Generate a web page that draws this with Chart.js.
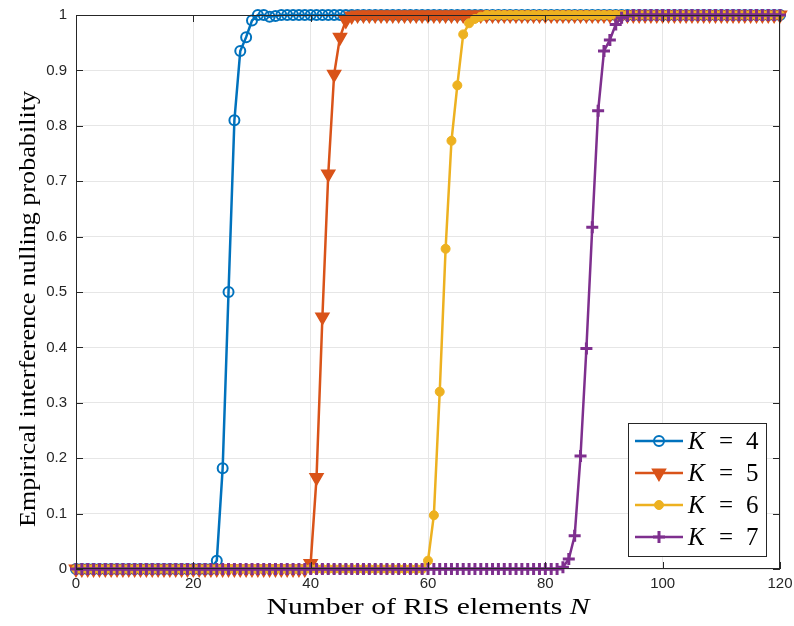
<!DOCTYPE html>
<html>
<head>
<meta charset="utf-8">
<script src="https://cdn.jsdelivr.net/npm/chart.js@4/dist/chart.umd.min.js"></script>
<style>
  html, body { margin: 0; padding: 0; background: #fff; }
  #wrap { width: 794px; height: 626px; position: relative; }
</style>
</head>
<body>
<div id="wrap"><canvas id="nullingChart"></canvas></div>
<script>
// RIS element counts N = 0..120
const nValues = [
  0,1,2,3,4,5,6,7,8,9,10,11,12,13,14,15,16,17,18,19,20,21,22,23,24,25,26,27,28,29,
  30,31,32,33,34,35,36,37,38,39,40,41,42,43,44,45,46,47,48,49,50,51,52,53,54,55,56,57,58,59,
  60,61,62,63,64,65,66,67,68,69,70,71,72,73,74,75,76,77,78,79,80,81,82,83,84,85,86,87,88,89,
  90,91,92,93,94,95,96,97,98,99,100,101,102,103,104,105,106,107,108,109,110,111,112,113,114,115,116,117,118,119,120
];

const probK4 = [
  0,0,0,0,0,0,0,0,0,0,0,0,0,0,0,0,0,0,0,0,0,0,0,0,0.015,0.182,0.5,0.81,0.935,0.96,
  0.99,1,1,0.997,0.998,1,1,1,1,1,1,1,1,1,1,1,1,1,1,1,1,1,1,1,1,1,1,1,1,1,
  1,1,1,1,1,1,1,1,1,1,1,1,1,1,1,1,1,1,1,1,1,1,1,1,1,1,1,1,1,1,
  1,1,1,1,1,1,1,1,1,1,1,1,1,1,1,1,1,1,1,1,1,1,1,1,1,1,1,1,1,1,1
];

const probK5 = [
  0,0,0,0,0,0,0,0,0,0,0,0,0,0,0,0,0,0,0,0,0,0,0,0,0,0,0,0,0,0,
  0,0,0,0,0,0,0,0,0,0,0.01,0.165,0.455,0.713,0.893,0.96,0.99,0.998,1,1,1,1,1,1,1,1,1,1,1,1,
  1,1,1,1,1,1,1,1,1,1,1,1,1,1,1,1,1,1,1,1,1,1,1,1,1,1,1,1,1,1,
  1,1,1,1,1,1,1,1,1,1,1,1,1,1,1,1,1,1,1,1,1,1,1,1,1,1,1,1,1,1,1
];

const probK6 = [
  0,0,0,0,0,0,0,0,0,0,0,0,0,0,0,0,0,0,0,0,0,0,0,0,0,0,0,0,0,0,
  0,0,0,0,0,0,0,0,0,0,0,0,0,0,0,0,0,0,0,0,0,0,0,0,0,0,0,0,0,0,
  0.015,0.097,0.32,0.578,0.773,0.873,0.965,0.985,0.993,0.997,1,1,1,1,1,1,1,1,1,1,1,1,1,1,1,1,1,1,1,1,
  1,1,1,1,1,1,1,1,1,1,1,1,1,1,1,1,1,1,1,1,1,1,1,1,1,1,1,1,1,1,1
];

const probK7 = [
  0,0,0,0,0,0,0,0,0,0,0,0,0,0,0,0,0,0,0,0,0,0,0,0,0,0,0,0,0,0,
  0,0,0,0,0,0,0,0,0,0,0,0,0,0,0,0,0,0,0,0,0,0,0,0,0,0,0,0,0,0,
  0,0,0,0,0,0,0,0,0,0,0,0,0,0,0,0,0,0,0,0,0,0,0,0.003,0.018,0.06,0.204,0.398,0.617,0.827,
  0.935,0.955,0.983,0.995,0.998,1,1,1,1,1,1,1,1,1,1,1,1,1,1,1,1,1,1,1,1,1,1,1,1,1,1
];

const seriesLabels = ['4', '5', '6', '7'];
const xTicks = [0, 20, 40, 60, 80, 100, 120];
const yTicks = [0, 0.1, 0.2, 0.3, 0.4, 0.5, 0.6, 0.7, 0.8, 0.9, 1];

const COLORS = ['#0072BD', '#D95319', '#EDB120', '#7E2F8E'];
const AXIS_COLOR = '#262626';
const TICK_FONT = '15px "Liberation Sans", Arial, sans-serif';
const SERIF = '"Liberation Serif", "DejaVu Serif", serif';

function toPoints(ys) {
    return nValues.map((n, i) => ({ x: n, y: ys[i] }));
}

const markerStyles = [
    { pointStyle: 'circle', pointRadius: 5, pointBorderWidth: 2, pointBackgroundColor: 'rgba(0,0,0,0)', pointRotation: 0 },
    { pointStyle: 'triangle', pointRadius: 7.5, pointBorderWidth: 1.5, pointBackgroundColor: COLORS[1], pointRotation: 180 },
    { pointStyle: 'circle', pointRadius: 4.5, pointBorderWidth: 1, pointBackgroundColor: COLORS[2], pointRotation: 0 },
    { pointStyle: 'cross', pointRadius: 6, pointBorderWidth: 3, pointBackgroundColor: COLORS[3], pointRotation: 0 }
];

const allSeries = [probK4, probK5, probK6, probK7];

const datasets = allSeries.map((ys, i) => Object.assign({
    label: 'K = ' + seriesLabels[i],
    data: toPoints(ys),
    borderColor: COLORS[i],
    pointBorderColor: COLORS[i],
    borderWidth: 2.5,
    tension: 0,
    clip: false,
    order: allSeries.length - 1 - i
}, markerStyles[i]));

function drawMarker(ctx, i, x, y) {
    const m = markerStyles[i];
    ctx.save();
    ctx.strokeStyle = COLORS[i];
    ctx.fillStyle = m.pointBackgroundColor;
    ctx.lineWidth = m.pointBorderWidth;
    Chart.helpers.drawPoint(ctx, {
        pointStyle: m.pointStyle,
        rotation: m.pointRotation,
        radius: m.pointRadius,
        borderWidth: m.pointBorderWidth
    }, x, y);
    ctx.restore();
}

// serif text stretched to the width of the LaTeX original
function fitText(ctx, parts, cx, cy, targetW) {
    let total = 0;
    parts.forEach(p => { ctx.font = p.font; p.w = ctx.measureText(p.text).width; total += p.w; });
    ctx.save();
    ctx.translate(cx, cy);
    ctx.scale(targetW / total, 1);
    let x = -total / 2;
    parts.forEach(p => { ctx.font = p.font; ctx.fillText(p.text, x, 0); x += p.w; });
    ctx.restore();
}

// MATLAB-like frame, inward ticks, labels, titles and legend
const matlabFrame = {
    id: 'matlabFrame',
    afterDatasetsDraw(chart) {
        const ctx = chart.ctx;
        const a = chart.chartArea;
        const xs = chart.scales.x, ys = chart.scales.y;

        ctx.save();
        ctx.strokeStyle = AXIS_COLOR;
        ctx.lineWidth = 1;
        ctx.strokeRect(a.left + 0.5, a.top + 0.5, a.right - a.left - 1, a.bottom - a.top - 1);

        ctx.beginPath();
        xTicks.forEach(v => {
            const px = Math.round(xs.getPixelForValue(v)) + 0.5;
            ctx.moveTo(px, a.bottom); ctx.lineTo(px, a.bottom - 7);
            ctx.moveTo(px, a.top); ctx.lineTo(px, a.top + 7);
        });
        yTicks.forEach(v => {
            const py = Math.round(ys.getPixelForValue(v)) + 0.5;
            ctx.moveTo(a.left, py); ctx.lineTo(a.left + 7, py);
            ctx.moveTo(a.right, py); ctx.lineTo(a.right - 7, py);
        });
        ctx.stroke();

        ctx.fillStyle = AXIS_COLOR;
        ctx.font = TICK_FONT;
        ctx.textAlign = 'center';
        ctx.textBaseline = 'top';
        xTicks.forEach(v => ctx.fillText(String(v), xs.getPixelForValue(v), a.bottom + 7));
        ctx.textAlign = 'right';
        ctx.textBaseline = 'middle';
        yTicks.forEach(v => ctx.fillText(String(+v.toFixed(1)), a.left - 9, ys.getPixelForValue(v)));

        // axis titles
        ctx.fillStyle = '#000';
        ctx.textBaseline = 'alphabetic';
        ctx.textAlign = 'left';
        fitText(ctx, [
            { text: 'Number of RIS elements ', font: '24px ' + SERIF },
            { text: 'N', font: 'italic 24px ' + SERIF }
        ], 428, 614, 323);

        ctx.save();
        ctx.translate(35, 309);
        ctx.rotate(-Math.PI / 2);
        fitText(ctx, [
            { text: 'Empirical interference nulling probability', font: '24px ' + SERIF }
        ], 0, 0, 436);
        ctx.restore();

        // legend
        const box = { x: 628, y: 423, w: 138, h: 133 };
        ctx.fillStyle = '#fff';
        ctx.fillRect(box.x, box.y, box.w, box.h);
        ctx.strokeStyle = AXIS_COLOR;
        ctx.lineWidth = 1;
        ctx.strokeRect(box.x + 0.5, box.y + 0.5, box.w, box.h);
        const rows = [441, 473, 505, 537];
        seriesLabels.forEach((lab, i) => {
            const ry = rows[i];
            ctx.strokeStyle = COLORS[i];
            ctx.lineWidth = 2.5;
            ctx.beginPath();
            ctx.moveTo(635, ry); ctx.lineTo(683, ry);
            ctx.stroke();
            drawMarker(ctx, i, 659, ry);
            ctx.fillStyle = '#000';
            ctx.textAlign = 'left';
            ctx.textBaseline = 'middle';
            ctx.font = 'italic 25px ' + SERIF;
            ctx.fillText('K', 688, ry + 1);
            ctx.font = '25px ' + SERIF;
            ctx.fillText('=', 719, ry + 1);
            ctx.fillText(lab, 746, ry + 1);
        });
        ctx.restore();
    }
};

new Chart(document.getElementById('nullingChart'), {
    type: 'line',
    data: { datasets: datasets },
    options: {
        responsive: true,
        maintainAspectRatio: false,
        animation: false,
        layout: { padding: { left: 0, top: 15, right: 14, bottom: 0 } },
        plugins: {
            legend: { display: false },
            tooltip: { enabled: false }
        },
        scales: {
            x: {
                type: 'linear',
                min: 0,
                max: 120,
                afterFit: s => { s.height = 57; },
                afterBuildTicks: s => { s.ticks = xTicks.map(v => ({ value: v })); },
                ticks: { display: false },
                grid: { color: '#e6e6e6', drawTicks: false },
                border: { display: false }
            },
            y: {
                min: 0,
                max: 1,
                afterFit: s => { s.width = 76; },
                afterBuildTicks: s => { s.ticks = yTicks.map(v => ({ value: v })); },
                ticks: { display: false },
                grid: { color: '#e6e6e6', drawTicks: false },
                border: { display: false }
            }
        }
    },
    plugins: [matlabFrame]
});
</script>
</body>
</html>
